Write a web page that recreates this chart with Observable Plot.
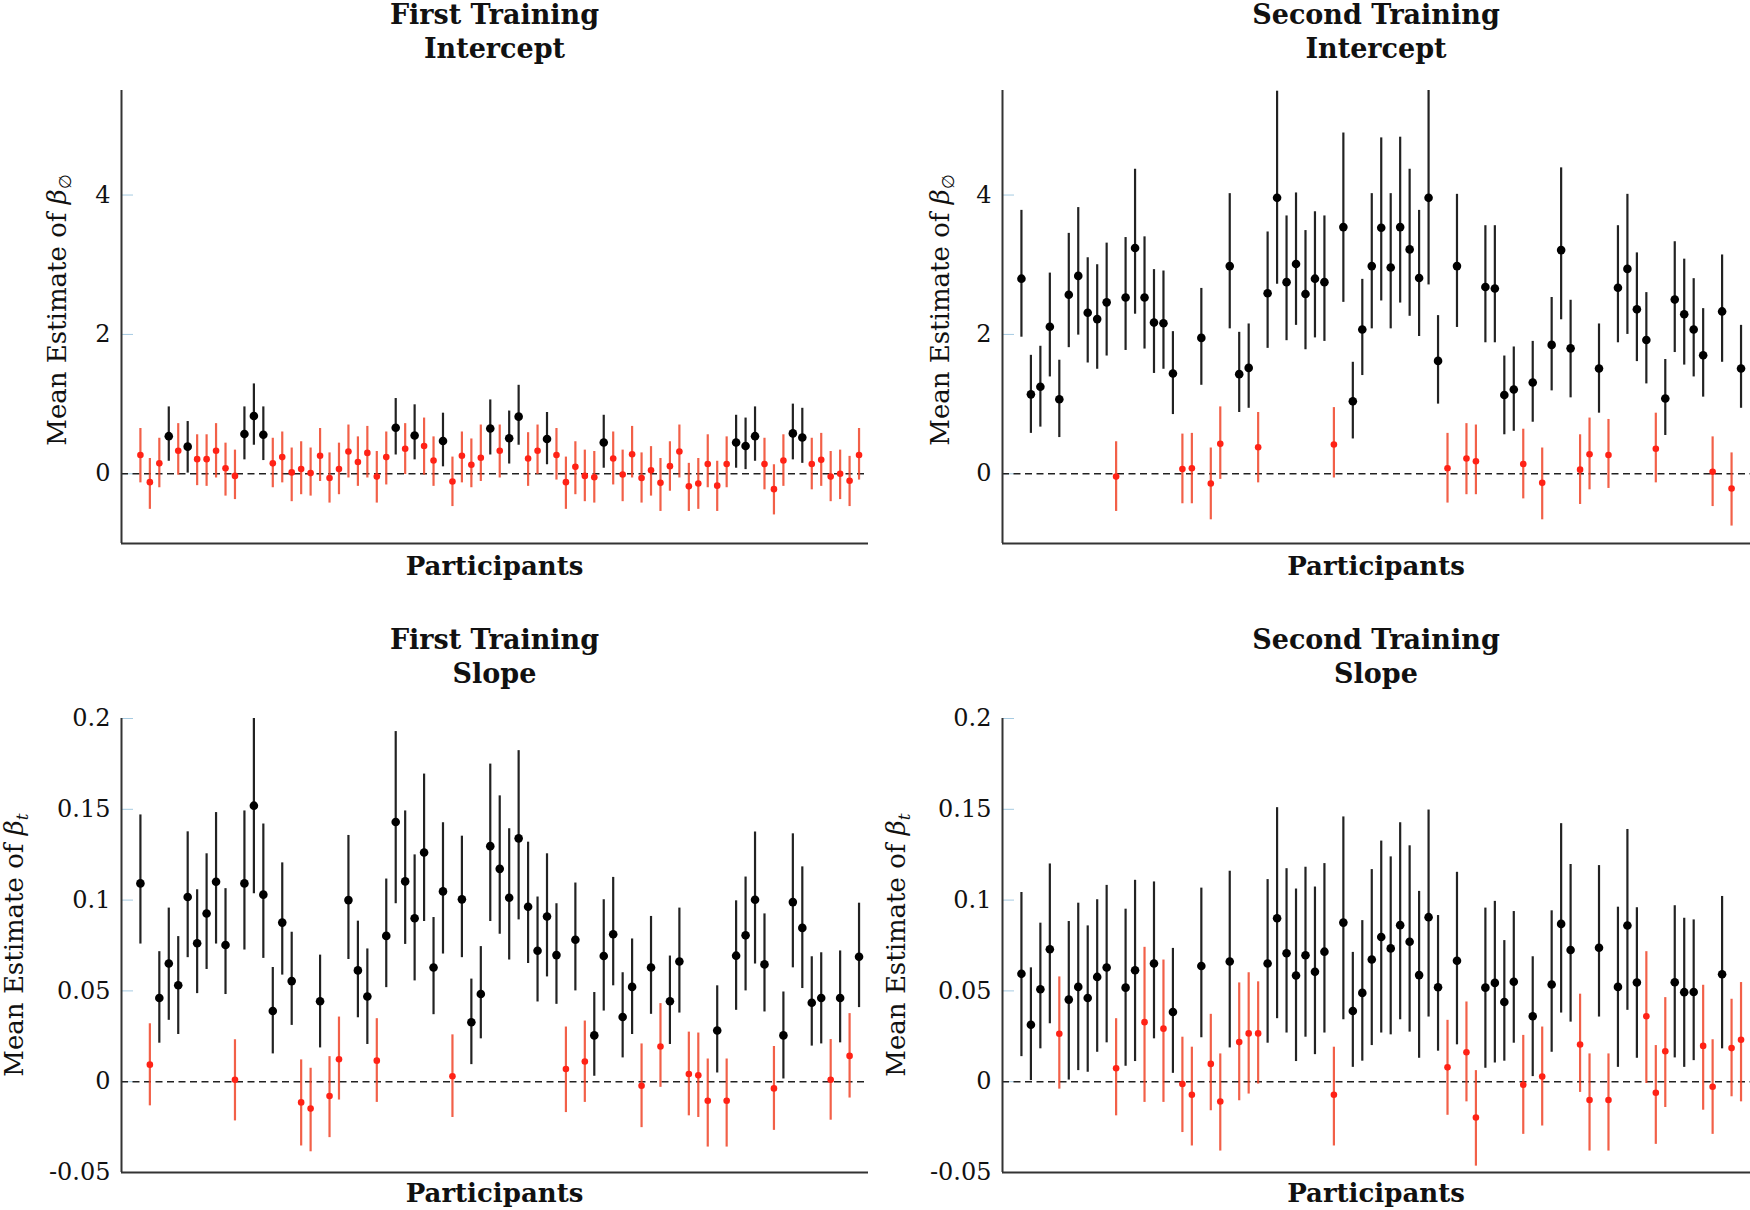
<!DOCTYPE html>
<html><head><meta charset="utf-8">
<script src="https://cdn.jsdelivr.net/npm/d3@7"></script>
<script src="https://cdn.jsdelivr.net/npm/@observablehq/plot@0.6"></script>
<style>
body{margin:0;background:#fff;}
#root{position:relative;width:1750px;height:1210px;font-family:"DejaVu Serif",serif;color:#111;overflow:hidden;}
.title{position:absolute;text-align:center;font-weight:bold;font-size:27px;line-height:34px;}
.xlab{position:absolute;text-align:center;font-weight:bold;font-size:26px;line-height:32px;}
.ylab{position:absolute;font-size:26px;transform:translate(-50%,-50%) rotate(-90deg);white-space:nowrap;}
.ylab sub{font-size:17px;vertical-align:-5px;}
.plot{position:absolute;}
</style></head><body><div id="root"></div><script>
// participants (categories)
const participants = d3.range(1, 78);
const xDomain = [-1, 78];

// First Training - Intercept
const ftIntMean = [0.27,-0.12,0.15,0.54,0.33,0.39,0.21,0.21,0.33,0.08,-0.03,0.57,0.83,0.56,0.15,0.24,0.02,0.07,0.01,0.26,-0.06,0.07,0.32,0.17,0.30,-0.04,0.24,0.66,0.36,0.55,0.40,0.19,0.47,-0.11,0.26,0.13,0.23,0.65,0.33,0.51,0.82,0.22,0.33,0.50,0.27,-0.12,0.10,-0.03,-0.05,0.45,0.22,-0.01,0.28,-0.06,0.05,-0.13,0.11,0.32,-0.18,-0.14,0.14,-0.17,0.14,0.45,0.40,0.54,0.14,-0.22,0.19,0.58,0.52,0.14,0.20,-0.04,0.00,-0.10,0.27];
const ftIntLo = [-0.13,-0.51,-0.2,0.18,-0.02,0.01,-0.17,-0.18,-0.06,-0.32,-0.37,0.2,0.41,0.19,-0.2,-0.13,-0.4,-0.3,-0.32,-0.11,-0.42,-0.3,-0.06,-0.18,-0.06,-0.42,-0.16,0.27,-0.01,0.2,-0.02,-0.18,0.1,-0.47,-0.13,-0.2,-0.11,0.27,-0.06,0.14,0.41,-0.18,-0.01,0.13,-0.09,-0.51,-0.3,-0.4,-0.42,0.08,-0.16,-0.4,-0.06,-0.42,-0.32,-0.54,-0.25,-0.06,-0.54,-0.51,-0.2,-0.54,-0.2,0.08,0.06,0.18,-0.23,-0.59,-0.18,0.2,0.15,-0.23,-0.18,-0.4,-0.37,-0.47,-0.09];
const ftIntHi = [0.65,0.22,0.51,0.96,0.72,0.75,0.56,0.56,0.72,0.44,0.34,0.96,1.29,0.96,0.51,0.6,0.37,0.46,0.37,0.65,0.3,0.44,0.7,0.53,0.68,0.32,0.6,1.08,0.72,0.99,0.8,0.53,0.87,0.24,0.6,0.5,0.7,1.06,0.7,0.9,1.27,0.59,0.7,0.88,0.65,0.24,0.46,0.34,0.32,0.84,0.6,0.34,0.68,0.3,0.39,0.22,0.46,0.7,0.15,0.22,0.56,0.18,0.53,0.84,0.8,0.96,0.51,0.13,0.56,1.0,0.94,0.51,0.58,0.32,0.34,0.25,0.65];

// Second Training - Intercept
const stIntMean = [2.8,1.14,1.25,2.11,1.07,2.57,2.84,2.31,2.22,2.46,-0.04,2.53,3.24,2.53,2.17,2.16,1.44,0.07,0.08,1.95,-0.14,0.43,2.98,1.43,1.52,0.38,2.59,3.96,2.75,3.01,2.58,2.8,2.75,0.42,3.54,1.04,2.07,2.98,3.53,2.96,3.54,3.22,2.81,3.96,1.62,0.08,2.98,0.22,0.18,2.68,2.66,1.13,1.21,0.14,1.31,-0.13,1.85,3.21,1.8,0.06,0.28,1.51,0.27,2.67,2.94,2.36,1.92,0.36,1.08,2.5,2.29,2.07,1.7,0.03,2.33,-0.21,1.51];
const stIntLo = [1.96,0.58,0.67,1.39,0.52,1.81,1.99,1.59,1.5,1.69,-0.54,1.77,2.29,1.79,1.44,1.5,0.85,-0.43,-0.43,1.27,-0.66,-0.08,2.08,0.88,0.94,-0.13,1.8,2.72,1.91,2.13,1.78,1.95,1.9,-0.06,2.46,0.5,1.41,2.08,2.48,2.08,2.45,2.26,1.97,2.71,1.0,-0.42,2.1,-0.3,-0.3,1.88,1.88,0.56,0.61,-0.36,0.74,-0.66,1.19,2.21,1.09,-0.44,-0.23,0.87,-0.21,1.88,2.0,1.61,1.29,-0.13,0.55,1.74,1.56,1.39,1.1,-0.47,1.6,-0.75,0.94];
const stIntHi = [3.78,1.7,1.83,2.88,1.63,3.45,3.82,3.1,3.0,3.31,0.46,3.39,4.37,3.4,2.93,2.91,2.04,0.57,0.58,2.66,0.37,0.96,4.02,2.03,2.15,0.88,3.47,5.49,3.7,4.03,3.49,3.76,3.7,0.95,4.89,1.6,2.79,4.02,4.82,4.02,4.83,4.37,3.78,5.5,2.27,0.58,4.01,0.72,0.7,3.56,3.56,1.69,1.82,0.64,1.9,0.37,2.53,4.39,2.49,0.56,0.8,2.15,0.78,3.56,4.01,3.17,2.6,0.87,1.64,3.33,3.08,2.8,2.37,0.53,3.14,0.3,2.13];

// First Training - Slope
const ftSlopeMean = [0.1092,0.0094,0.0461,0.0651,0.0531,0.1017,0.0762,0.0926,0.1101,0.0753,0.0011,0.1092,0.152,0.103,0.0389,0.0876,0.0554,-0.0114,-0.0148,0.0443,-0.0079,0.0124,0.1,0.0613,0.0469,0.0116,0.0803,0.143,0.1103,0.09,0.1262,0.0629,0.1048,0.003,0.1004,0.0327,0.0483,0.1297,0.1172,0.1013,0.134,0.0963,0.0721,0.091,0.0697,0.007,0.0782,0.0111,0.0255,0.0692,0.0812,0.0356,0.0522,-0.0022,0.0629,0.0194,0.0443,0.0662,0.0042,0.0035,-0.0105,0.0282,-0.0105,0.0694,0.0806,0.1002,0.0646,-0.0037,0.0255,0.0989,0.0847,0.0435,0.0461,0.0011,0.0461,0.0142,0.0688];
const ftSlopeLo = [0.0758,-0.0133,0.0212,0.0338,0.026,0.0683,0.0485,0.0618,0.0758,0.048,-0.0216,0.0725,0.1035,0.0679,0.0153,0.0587,0.031,-0.0354,-0.0386,0.0186,-0.0308,-0.0101,0.0673,0.0352,0.0205,-0.0114,0.0518,0.098,0.0756,0.0555,0.0882,0.0369,0.0703,-0.0197,0.0683,0.0094,0.0236,0.0882,0.0812,0.067,0.0891,0.0651,0.0439,0.0577,0.0426,-0.017,0.05,-0.0114,0.003,0.0389,0.0528,0.0131,0.026,-0.0253,0.0371,-0.0031,0.0205,0.0378,-0.0188,-0.0197,-0.036,0.0048,-0.036,0.0393,0.05,0.0648,0.0384,-0.0268,0.0015,0.0627,0.0513,0.0196,0.0208,-0.0212,0.0214,-0.009,0.0408];
const ftSlopeHi = [0.1469,0.0319,0.0716,0.0956,0.0799,0.1376,0.1057,0.1255,0.1482,0.1063,0.0231,0.1491,0.2,0.1419,0.0629,0.1205,0.0823,0.012,0.0074,0.0697,0.0138,0.0356,0.1356,0.0884,0.0731,0.0347,0.1116,0.1928,0.1491,0.1249,0.1694,0.0904,0.1426,0.0258,0.1352,0.0565,0.0744,0.1749,0.1574,0.1393,0.1823,0.1319,0.1017,0.1255,0.098,0.0301,0.1094,0.0334,0.0491,0.1002,0.1125,0.06,0.0786,0.0208,0.091,0.043,0.0692,0.0956,0.0273,0.0268,0.0125,0.0528,0.0125,0.0996,0.1127,0.1375,0.0924,0.0194,0.0494,0.1365,0.1183,0.0688,0.071,0.0232,0.072,0.0375,0.0983];

// Second Training - Slope
const stSlopeMean = [0.0594,0.0314,0.0509,0.0729,0.0264,0.0452,0.0522,0.0461,0.0577,0.0629,0.0074,0.0518,0.0614,0.0328,0.0651,0.0292,0.0384,-0.0013,-0.0072,0.0637,0.0098,-0.0109,0.0662,0.0218,0.0266,0.0266,0.0651,0.09,0.0707,0.0585,0.0696,0.0605,0.0716,-0.0072,0.0876,0.0389,0.0489,0.0673,0.0797,0.0734,0.0862,0.0771,0.0587,0.0906,0.052,0.0079,0.0666,0.0162,-0.0197,0.0518,0.0544,0.0439,0.055,-0.0017,0.036,0.0028,0.0535,0.0869,0.0725,0.0205,-0.0101,0.0738,-0.0101,0.0522,0.086,0.0546,0.036,-0.0061,0.0168,0.0548,0.0493,0.0494,0.0197,-0.0028,0.0592,0.0185,0.0231];
const stSlopeLo = [0.0138,0.0006,0.0181,0.0319,-0.0041,0.0009,0.0061,0.0052,0.0162,0.0214,-0.0188,0.0085,0.0111,-0.0114,0.0236,-0.0114,0.0046,-0.028,-0.0354,0.0242,-0.016,-0.0382,0.0186,-0.0105,-0.0068,-0.0013,0.0212,0.0347,0.0268,0.0111,0.0245,0.0149,0.0268,-0.0354,0.0341,0.0079,0.0113,0.0199,0.0268,0.0258,0.0341,0.0273,0.0129,0.0356,0.0168,-0.0185,0.0203,-0.0111,-0.0465,0.0074,0.0103,0.0113,0.0212,-0.029,0.0028,-0.0244,0.0162,0.0378,0.0328,-0.0059,-0.0382,0.0356,-0.0382,0.0079,0.0393,0.0129,-0.001,-0.0345,-0.0142,0.0131,0.0079,0.0116,-0.0157,-0.029,0.0181,-0.0083,-0.0111];
const stSlopeHi = [0.1042,0.0627,0.0873,0.1199,0.0577,0.0882,0.0983,0.0858,0.1002,0.1081,0.0347,0.095,0.1109,0.074,0.11,0.067,0.0734,0.0245,0.019,0.1066,0.0371,0.0153,0.1159,0.0544,0.06,0.055,0.1113,0.1509,0.1173,0.1061,0.1181,0.1072,0.1201,0.019,0.1458,0.0712,0.0887,0.1168,0.1325,0.1238,0.1426,0.1299,0.1048,0.1496,0.0915,0.0338,0.1153,0.0439,0.0061,0.0956,0.0993,0.0777,0.0937,0.0255,0.0688,0.0301,0.0941,0.1421,0.1196,0.0482,0.0153,0.119,0.0153,0.0961,0.1389,0.0958,0.0716,0.0199,0.0463,0.0969,0.09,0.0891,0.0531,0.0231,0.102,0.0454,0.0546];

// axes
const interceptDomain = [-1, 5.5];
const interceptTicks = [0, 2, 4];
const slopeDomain = [-0.05, 0.2];
const slopeTicks = [-0.05, 0, 0.05, 0.1, 0.15, 0.2];

const root = document.getElementById("root");

function addDiv(cls, html, style) {
  const d = document.createElement("div");
  d.className = cls;
  d.innerHTML = html;
  Object.assign(d.style, style);
  root.appendChild(d);
  return d;
}

function panel(o) {
  const data = participants.map((p, k) => ({p, m: o.mean[k], lo: o.lo[k], hi: o.hi[k]}));
  const red = data.filter(d => !(d.lo > 0));
  const blk = data.filter(d => d.lo > 0);
  const svg = Plot.plot({
    width: o.width, height: o.height,
    marginLeft: o.mL, marginRight: o.mR, marginTop: o.mT, marginBottom: o.mB,
    x: {domain: xDomain, axis: null},
    y: {domain: o.yDomain, label: null},
    style: {fontFamily: '"DejaVu Serif", serif', fontSize: "24px", color: "#111", background: "transparent", overflow: "visible"},
    marks: [
      Plot.axisY(o.yTicks, {tickSize: 0, tickPadding: 11, tickFormat: d => String(d), label: null}),
      Plot.axisY(o.yTicks, {tickSize: -12, text: null, stroke: "#a6cbe2", label: null}),
      Plot.ruleY([0], {stroke: "#222", strokeWidth: 1.6, strokeDasharray: "7,4.5"}),
      Plot.ruleX(red, {x: "p", y1: "lo", y2: "hi", stroke: "#f04428", strokeWidth: 2.2, strokeOpacity: 0.85}),
      Plot.ruleX(blk, {x: "p", y1: "lo", y2: "hi", stroke: "#222", strokeWidth: 2.2}),
      Plot.dot(red, {x: "p", y: "m", r: 3.3, fill: "#ff2216"}),
      Plot.dot(blk, {x: "p", y: "m", r: 4.3, fill: "#000"}),
      Plot.ruleX([xDomain[0]], {stroke: "#333", strokeWidth: 2}),
      Plot.ruleY([o.yDomain[0]], {stroke: "#333", strokeWidth: 2})
    ]
  });
  const wrap = document.createElement("div");
  wrap.className = "plot";
  wrap.style.left = o.left + "px";
  wrap.style.top = o.top + "px";
  wrap.appendChild(svg);
  root.appendChild(wrap);
  const px = o.left + o.mL, pw = o.width - o.mL - o.mR;
  addDiv("title", o.title + "<br>" + o.sub, {left: px + "px", width: pw + "px", top: o.titleTop + "px"});
  addDiv("xlab", "Participants", {left: px + "px", width: pw + "px", top: o.xlabTop + "px"});
  addDiv("ylab", o.ylab, {left: o.ylabX + "px", top: o.ylabY + "px"});
}

const yInt = 'Mean Estimate of <i>β</i><sub>∅</sub>';
const ySlope = 'Mean Estimate of <i>β</i><sub><i>t</i></sub>';

panel({left: 0, top: 80, width: 880, height: 470, mL: 121, mR: 12, mT: 10, mB: 7,
  yDomain: interceptDomain, yTicks: interceptTicks, mean: ftIntMean, lo: ftIntLo, hi: ftIntHi,
  title: "First Training", sub: "Intercept", titleTop: -2, xlabTop: 550, ylab: yInt, ylabX: 58, ylabY: 310});
panel({left: 875, top: 80, width: 875, height: 470, mL: 127, mR: 0, mT: 10, mB: 7,
  yDomain: interceptDomain, yTicks: interceptTicks, mean: stIntMean, lo: stIntLo, hi: stIntHi,
  title: "Second Training", sub: "Intercept", titleTop: -2, xlabTop: 550, ylab: yInt, ylabX: 941, ylabY: 310});
panel({left: 0, top: 708, width: 880, height: 470, mL: 121, mR: 12, mT: 10, mB: 6,
  yDomain: slopeDomain, yTicks: slopeTicks, mean: ftSlopeMean, lo: ftSlopeLo, hi: ftSlopeHi,
  title: "First Training", sub: "Slope", titleTop: 623, xlabTop: 1177, ylab: ySlope, ylabX: 15, ylabY: 945});
panel({left: 875, top: 708, width: 875, height: 470, mL: 127, mR: 0, mT: 10, mB: 6,
  yDomain: slopeDomain, yTicks: slopeTicks, mean: stSlopeMean, lo: stSlopeLo, hi: stSlopeHi,
  title: "Second Training", sub: "Slope", titleTop: 623, xlabTop: 1177, ylab: ySlope, ylabX: 897, ylabY: 945});
</script></body></html>
